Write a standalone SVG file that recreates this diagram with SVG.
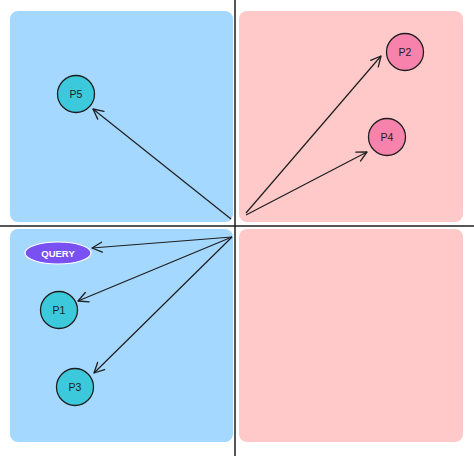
<svg xmlns="http://www.w3.org/2000/svg" width="474" height="456" viewBox="0 0 474 456">
<defs>
<marker id="ah" viewBox="0 0 12 12" refX="11" refY="6" markerWidth="12" markerHeight="12" markerUnits="userSpaceOnUse" orient="auto">
<path d="M1,1 L11,6 L1,11" fill="none" stroke="#1e1e1e" stroke-width="1.3" stroke-linecap="round" stroke-linejoin="round"/>
</marker>
<style>
.qb{fill:#a5d8ff}
.qp{fill:#ffc9c9}
.axis{stroke:#1e1e1e;stroke-width:1.5}
.edge{stroke:#1e1e1e;stroke-width:1.2;fill:none;marker-end:url(#ah)}
.nb{fill:#3bc9db;stroke:#1e1e1e;stroke-width:1.3}
.np{fill:#f783ac;stroke:#1e1e1e;stroke-width:1.3}
.lbl{font-family:"Liberation Sans",sans-serif;font-size:10.5px;fill:#1e1e1e;text-anchor:middle;dominant-baseline:central}
.ql{font-family:"Liberation Sans",sans-serif;font-size:9.5px;font-weight:bold;fill:#ffffff;text-anchor:middle;dominant-baseline:central}
</style>
</defs>
<rect width="474" height="456" fill="#ffffff"/>
<g id="quadrants">
<rect class="qb" x="10" y="11" width="223" height="211" rx="8"/>
<rect class="qp" x="239" y="11" width="224" height="211" rx="8"/>
<rect class="qb" x="10" y="229" width="223" height="213" rx="8"/>
<rect class="qp" x="239" y="229" width="224" height="213" rx="8"/>
</g>
<g id="axes">
<line class="axis" x1="235" y1="0" x2="235" y2="456"/>
<line class="axis" x1="0" y1="226" x2="474" y2="226"/>
</g>
<g id="connectors">
<line class="edge" x1="231" y1="219" x2="93" y2="109"/>
<line class="edge" x1="246" y1="213" x2="381" y2="56"/>
<line class="edge" x1="246" y1="215" x2="367" y2="152"/>
<line class="edge" x1="232" y1="237" x2="92" y2="248"/>
<line class="edge" x1="232" y1="237" x2="78" y2="301"/>
<line class="edge" x1="232" y1="237" x2="94" y2="373"/>
</g>
<g id="P5"><circle class="nb" cx="76" cy="94" r="18.5"/><text class="lbl" x="76" y="94">P5</text></g>
<g id="P2"><circle class="np" cx="405" cy="52" r="18.5"/><text class="lbl" x="405" y="52">P2</text></g>
<g id="P4"><circle class="np" cx="387" cy="137" r="18.5"/><text class="lbl" x="387" y="137">P4</text></g>
<g id="QUERY"><ellipse cx="58" cy="253" rx="33" ry="11" fill="#7950f2" stroke="#ffffff" stroke-width="1.2"/><text class="ql" x="58" y="253">QUERY</text></g>
<g id="P1"><circle class="nb" cx="59" cy="310" r="18.5"/><text class="lbl" x="59" y="310">P1</text></g>
<g id="P3"><circle class="nb" cx="75" cy="387" r="18.5"/><text class="lbl" x="75" y="387">P3</text></g>
</svg>
